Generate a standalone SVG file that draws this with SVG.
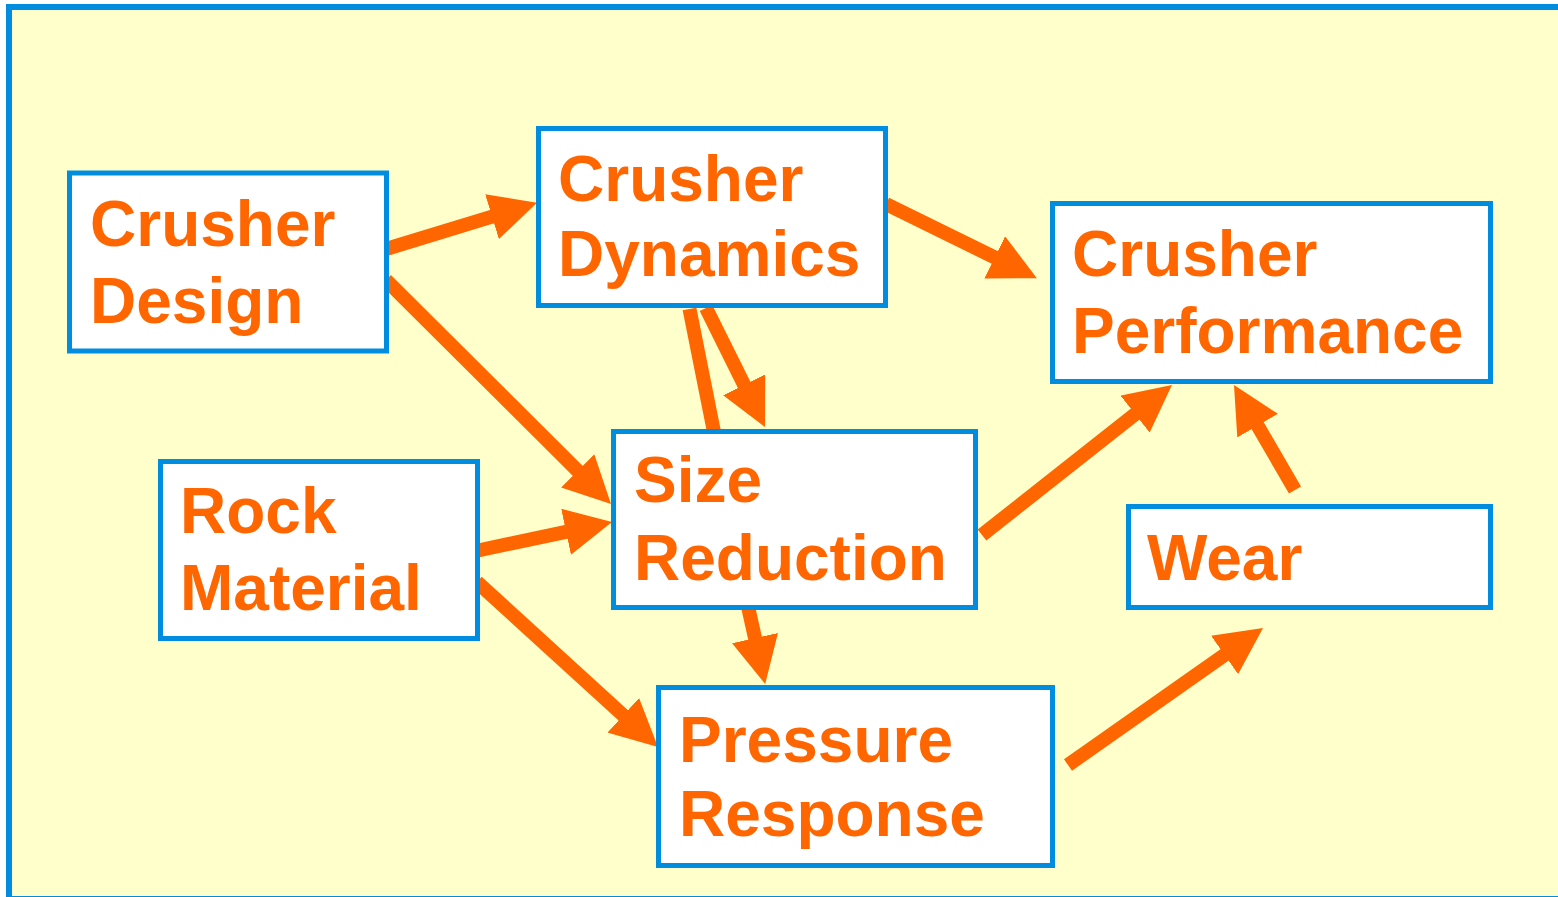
<svg xmlns="http://www.w3.org/2000/svg" width="1558" height="897" viewBox="0 0 1558 897">
  <style>
    .frame { fill: #FFFFCC; stroke: #008DE0; stroke-width: 6; }
    .box { fill: #FFFFFF; stroke: #008DE0; stroke-width: 5; }
    .label { font-family: "Liberation Sans", Arial, sans-serif; font-weight: bold; font-size: 64px; fill: #FF6600; }
    .link { stroke: #FF6600; stroke-width: 14; fill: none; stroke-linecap: butt; }
  </style>
  <defs>
    <marker id="head" markerUnits="userSpaceOnUse" viewBox="0 0 47 47" markerWidth="47" markerHeight="47" refX="12" refY="23.5" orient="auto">
      <path d="M0,0 L47,23.5 L0,47 Z" fill="#FF6600"/>
    </marker>
  </defs>

  <!-- background panel -->
  <rect class="frame" x="9" y="7" width="1560" height="892"/>

  <!-- connectors -->
  <g id="connectors">
    <line class="link" x1="386" y1="249" x2="503.5" y2="213.1" marker-end="url(#head)"/>
    <line class="link" x1="386" y1="280" x2="586.2" y2="479.3" marker-end="url(#head)"/>
    <line class="link" x1="886" y1="204" x2="1005.5" y2="262.7" marker-end="url(#head)"/>
    <line class="link" x1="689.5" y1="309" x2="714" y2="432"/>
    <line class="link" x1="706" y1="308" x2="749.5" y2="395.6" marker-end="url(#head)"/>
    <line class="link" x1="478" y1="550.5" x2="577.8" y2="529.3" marker-end="url(#head)"/>
    <line class="link" x1="477" y1="582" x2="632.1" y2="723.4" marker-end="url(#head)"/>
    <line class="link" x1="747" y1="602" x2="757.6" y2="649.8" marker-end="url(#head)"/>
    <line class="link" x1="982" y1="535" x2="1144.5" y2="406.7" marker-end="url(#head)"/>
    <line class="link" x1="1295" y1="490" x2="1251.6" y2="415.3" marker-end="url(#head)"/>
    <line class="link" x1="1068" y1="765" x2="1234.4" y2="648.1" marker-end="url(#head)"/>
  </g>

  <!-- nodes -->
  <g id="crusher-design">
    <rect class="box" x="69.5" y="173" width="317" height="178"/>
    <text class="label" x="90" y="246">Crusher</text>
    <text class="label" x="90" y="323">Design</text>
  </g>
  <g id="crusher-dynamics">
    <rect class="box" x="538.5" y="128.5" width="347" height="177"/>
    <text class="label" x="558" y="201">Crusher</text>
    <text class="label" x="558" y="276">Dynamics</text>
  </g>
  <g id="crusher-performance">
    <rect class="box" x="1052.5" y="203.5" width="438" height="178"/>
    <text class="label" x="1072" y="276">Crusher</text>
    <text class="label" x="1072" y="353">Performance</text>
  </g>
  <g id="size-reduction">
    <rect class="box" x="613.5" y="431.5" width="362" height="176"/>
    <text class="label" x="634" y="502">Size</text>
    <text class="label" x="634" y="580">Reduction</text>
  </g>
  <g id="rock-material">
    <rect class="box" x="160.5" y="461.5" width="317" height="177"/>
    <text class="label" x="180" y="533">Rock</text>
    <text class="label" x="180" y="610">Material</text>
  </g>
  <g id="wear">
    <rect class="box" x="1128.5" y="506.5" width="362" height="101"/>
    <text class="label" x="1147" y="580">Wear</text>
  </g>
  <g id="pressure-response">
    <rect class="box" x="658.5" y="687.5" width="394" height="178"/>
    <text class="label" x="679" y="762">Pressure</text>
    <text class="label" x="679" y="836">Response</text>
  </g>
</svg>
